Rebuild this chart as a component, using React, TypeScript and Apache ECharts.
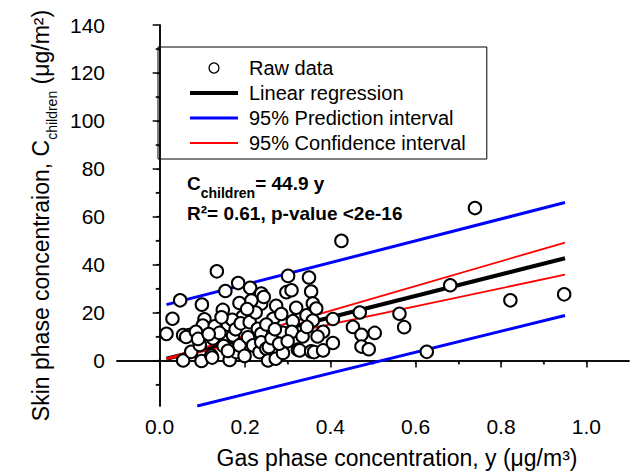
import React, { useEffect, useRef } from "react";
import * as echarts from "echarts";

const FONT = "'Liberation Sans', Arial, sans-serif";

// Raw data (gas phase y, skin phase C)
const rawData: number[][] = [
  [0.016, 11.1], [0.030, 17.4], [0.048, 25.1], [0.055, 10.6], [0.070, 10.6], [0.055, 0.0], [0.074, 3.6],
  [0.094, 6.5], [0.098, -0.2], [0.099, 23.3], [0.105, 17.2], [0.101, 14.6], [0.062, 9.8], [0.085, 12.0], [0.090, 9.0],
  [0.121, 2.1], [0.123, 1.2], [0.125, 9.2], [0.129, 14.3], [0.134, 37.2], [0.148, 21.1], [0.154, 29.0], [0.160, 14.9],
  [0.164, 0.2], [0.172, 10.4], [0.180, 3.5], [0.184, 32.3], [0.187, 24.0], [0.187, 6.3], [0.195, 18.3], [0.199, 1.9],
  [0.140, 11.5], [0.150, 6.0], [0.115, 11.0], [0.170, 17.0], [0.178, 13.0], [0.190, 15.5], [0.160, 4.0], [0.145, 18.0],
  [0.207, 9.7], [0.211, 16.0], [0.212, 30.3], [0.219, 6.3], [0.230, 13.2], [0.234, 3.5], [0.238, 27.9], [0.238, 11.1],
  [0.238, 23.7], [0.238, 7.6], [0.244, 26.5], [0.250, 4.9], [0.254, 0.0], [0.256, 5.6], [0.262, 9.3], [0.266, 17.4],
  [0.272, 0.7], [0.273, 22.8], [0.285, 19.4], [0.289, 11.5], [0.289, 3.1], [0.297, 28.5], [0.225, 20.0], [0.215, 25.0],
  [0.250, 15.0], [0.270, 13.0], [0.280, 7.0], [0.205, 21.5],
  [0.301, 35.3], [0.309, 29.3], [0.312, 16.4], [0.324, 4.5], [0.328, 4.2], [0.344, 18.8], [0.350, 34.6], [0.355, 28.8],
  [0.355, 3.8], [0.359, 23.8], [0.359, 16.7], [0.362, 3.5], [0.367, 21.7], [0.383, 12.0], [0.383, 4.2], [0.310, 12.0],
  [0.335, 10.0], [0.345, 14.0], [0.370, 10.0], [0.320, 22.0], [0.300, 8.0],
  [0.406, 17.3], [0.406, 7.3], [0.426, 49.9], [0.453, 14.0], [0.469, 20.0], [0.473, 10.7], [0.473, 5.8], [0.490, 4.7],
  [0.504, 11.5], [0.562, 19.5], [0.573, 13.9], [0.626, 3.6], [0.681, 31.4], [0.739, 63.6], [0.822, 25.1], [0.948, 27.6],
];

// Fitted lines (visible end points)
const regressionLine: number[][] = [[0.016, 0.72], [0.95, 42.65]];
const predictionUpper: number[][] = [[0.016, 23.3], [0.95, 65.9]];
const predictionLower: number[][] = [[0.088, -19], [0.95, 18.8]];
const confidenceUpper: number[][] = [[0.016, 0.83], [0.95, 49.2]];
const confidenceLower: number[][] = [[0.016, 0.6], [0.95, 35.8]];

// Axis ticks
const xMajorTicks = [0, 0.2, 0.4, 0.6, 0.8, 1.0];
const xMinorTicks = [0.1, 0.3, 0.5, 0.7, 0.9];
const xTopTicks = [0, 0.1, 0.2, 0.3, 0.4, 0.5, 0.6, 0.7, 0.8, 0.9, 1.0];
const yMajorTicks = [0, 20, 40, 60, 80, 100, 120, 140];
const yMinorTicks = [-10, 10, 30, 50, 70, 90, 110, 130];
const yRightTicks = [-10, 0, 10, 20, 30, 40, 50, 60, 70, 80, 90, 100, 110, 120, 130];

const X_MIN = -0.1, X_MAX = 1.1, Y_MIN = -19, Y_MAX = 140;

const legendNames = ["Raw data", "Linear regression", "95% Prediction interval", "95% Confidence interval"];

export default function App() {
  const ref = useRef<HTMLDivElement>(null);
  useEffect(() => {
    if (!ref.current) return;
    const chart = echarts.init(ref.current, undefined, { renderer: "svg" });
    const axisLine = { show: true, lineStyle: { color: "#000", width: 1.5 } };
    const lineSeries = (name: string, data: number[][], color: string, width: number) => ({
      type: "line",
      name,
      data,
      xAxisIndex: 0,
      yAxisIndex: 0,
      symbol: "none",
      clip: true,
      lineStyle: { color, width },
      itemStyle: { color },
      z: 2,
    });
    const hiddenSymbol = { opacity: 0, borderWidth: 0 };
    chart.setOption({
      animation: false,
      textStyle: { fontFamily: FONT, color: "#000" },
      grid: { left: 117, right: 8, top: 25, bottom: 68, containLabel: false },
      legend: {
        orient: "vertical",
        left: 158,
        top: 47,
        padding: [11, 21, 6, 30],
        itemWidth: 48,
        itemHeight: 10,
        itemGap: 5,
        borderColor: "#000",
        borderWidth: 1,
        textStyle: { fontSize: 20, fontFamily: FONT, color: "#000", padding: [0, 0, 0, 6] },
        data: [
          { name: legendNames[0], itemStyle: { borderWidth: 1.3 } },
          { name: legendNames[1], itemStyle: hiddenSymbol, lineStyle: { width: 4, color: "#000" } },
          { name: legendNames[2], itemStyle: hiddenSymbol, lineStyle: { width: 3, color: "#0000ff" } },
          { name: legendNames[3], itemStyle: hiddenSymbol, lineStyle: { width: 1.8, color: "#ff0000" } },
        ],
      },
      xAxis: [
        {
          type: "value",
          position: "bottom",
          min: X_MIN,
          max: X_MAX,
          axisLine,
          splitLine: { show: false },
          axisTick: { show: true, inside: false, length: 7, customValues: xMajorTicks, lineStyle: { color: "#000", width: 1.5 } },
          axisLabel: {
            customValues: xMajorTicks,
            formatter: (v: number) => v.toFixed(1),
            fontSize: 21,
            color: "#000",
            fontFamily: FONT,
            margin: 10,
          },
          name: "Gas phase concentration, y (μg/m³)",
          nameLocation: "middle",
          nameGap: 40,
          nameTextStyle: { fontSize: 23, fontFamily: FONT, color: "#000", padding: [0, 0, 0, 48] },
        },
        {
          type: "value",
          position: "bottom",
          min: X_MIN,
          max: X_MAX,
          axisLine: { show: false },
          splitLine: { show: false },
          axisLabel: { show: false },
          axisTick: { show: true, inside: false, length: 4, customValues: xMinorTicks, lineStyle: { color: "#000", width: 1.5 } },
        },
        {
          type: "value",
          position: "top",
          min: X_MIN,
          max: X_MAX,
          axisLine,
          splitLine: { show: false },
          axisLabel: { show: false },
          axisTick: { show: true, inside: true, length: 3, customValues: xTopTicks, lineStyle: { color: "#000", width: 1.2 } },
        },
      ],
      yAxis: [
        {
          type: "value",
          position: "left",
          min: Y_MIN,
          max: Y_MAX,
          axisLine,
          splitLine: { show: false },
          axisTick: { show: true, inside: false, length: 7, customValues: yMajorTicks, lineStyle: { color: "#000", width: 1.5 } },
          axisLabel: {
            customValues: yMajorTicks,
            fontSize: 21,
            color: "#000",
            fontFamily: FONT,
            margin: 12,
          },
          name: "{m|Skin phase concentraion, C}{s|children}{m| (μg/m²)}",
          nameLocation: "middle",
          nameRotate: 90,
          nameGap: 46,
          nameTextStyle: {
            fontFamily: FONT,
            color: "#000",
            rich: {
              m: { fontSize: 23, fontFamily: FONT, color: "#000", verticalAlign: "middle" },
              s: { fontSize: 14, fontFamily: FONT, color: "#000", verticalAlign: "middle", padding: [22, 0, 0, 0] },
            },
          },
        },
        {
          type: "value",
          position: "left",
          min: Y_MIN,
          max: Y_MAX,
          axisLine: { show: false },
          splitLine: { show: false },
          axisLabel: { show: false },
          axisTick: { show: true, inside: false, length: 4, customValues: yMinorTicks, lineStyle: { color: "#000", width: 1.5 } },
        },
        {
          type: "value",
          position: "right",
          min: Y_MIN,
          max: Y_MAX,
          axisLine,
          splitLine: { show: false },
          axisLabel: { show: false },
          axisTick: { show: true, inside: true, length: 3, customValues: yRightTicks, lineStyle: { color: "#000", width: 1.2 } },
        },
      ],
      graphic: [
        {
          type: "text",
          x: 187,
          y: 183,
          z: 20,
          style: {
            text: "{m|C}{s|children}{m|= 44.9 y}",
            align: "left",
            verticalAlign: "middle",
            rich: {
              m: { fontSize: 19, fontWeight: "bold", fontFamily: FONT, fill: "#000", verticalAlign: "middle" },
              s: { fontSize: 14, fontWeight: "bold", fontFamily: FONT, fill: "#000", verticalAlign: "middle", padding: [19, 0, 0, 0] },
            },
          },
        },
        {
          type: "text",
          x: 187,
          y: 213,
          z: 20,
          style: {
            text: "R²= 0.61, p-value <2e-16",
            align: "left",
            verticalAlign: "middle",
            font: `bold 19px ${FONT}`,
            fill: "#000",
          },
        },
      ],
      series: [
        {
          type: "scatter",
          name: legendNames[0],
          data: rawData,
          xAxisIndex: 0,
          yAxisIndex: 0,
          symbol: "circle",
          symbolSize: 12.5,
          itemStyle: { color: "#fff", borderColor: "#000", borderWidth: 2, opacity: 1 },
          z: 5,
        },
        lineSeries(legendNames[1], regressionLine, "#000", 4),
        lineSeries(legendNames[2], predictionUpper, "#0000ff", 3),
        lineSeries(legendNames[2], predictionLower, "#0000ff", 3),
        lineSeries(legendNames[3], confidenceUpper, "#ff0000", 1.8),
        lineSeries(legendNames[3], confidenceLower, "#ff0000", 1.8),
      ],
    });
    return () => chart.dispose();
  }, []);
  return <div ref={ref} style={{ position: "fixed", left: 0, top: 0, width: 637, height: 474, background: "#fff" }} />;
}
